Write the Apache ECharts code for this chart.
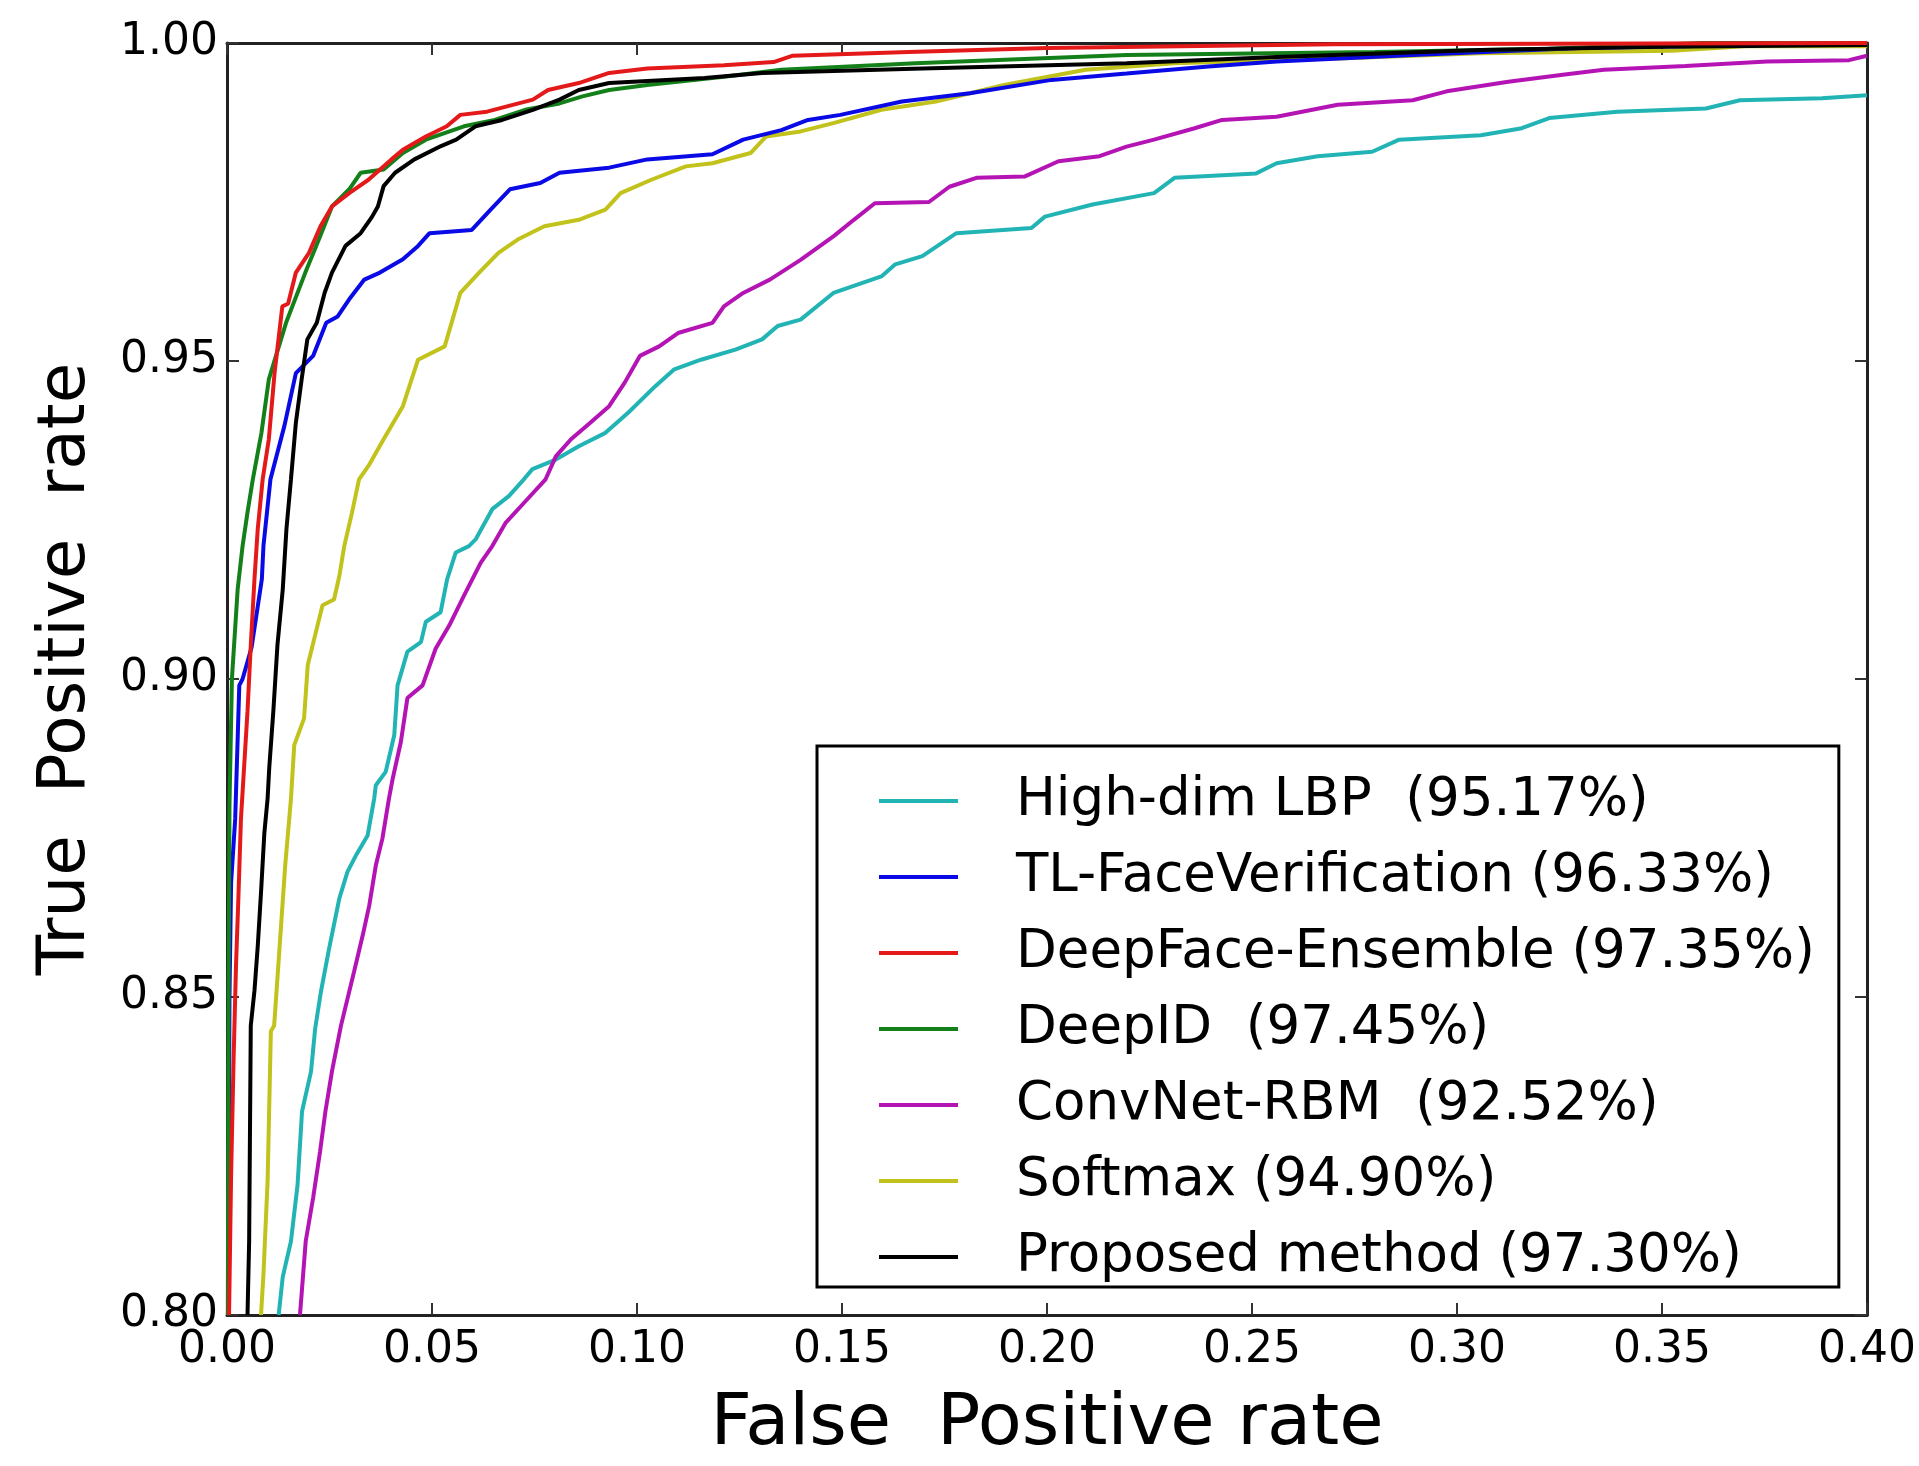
<!DOCTYPE html>
<html>
<head>
<meta charset="utf-8">
<script src="https://cdn.jsdelivr.net/npm/echarts@6/dist/echarts.min.js"></script>
<style>
html,body{margin:0;padding:0;background:#fff;}
#chart{width:1919px;height:1466px;}
</style>
</head>
<body>
<div id="chart"></div>
<script>
// ---- Data ----
const seriesNames = [
  'High-dim LBP  (95.17%)',
  'TL-FaceVerification (96.33%)',
  'DeepFace-Ensemble (97.35%)',
  'DeepID  (97.45%)',
  'ConvNet-RBM  (92.52%)',
  'Softmax (94.90%)',
  'Proposed method (97.30%)'
];

const xTicks = [0.00, 0.05, 0.10, 0.15, 0.20, 0.25, 0.30, 0.35, 0.40];
const yTicks = [0.80, 0.85, 0.90, 0.95, 1.00];

// High-dim LBP
const lbpFPR = [0.0126,0.0136,0.0156,0.0172,0.0183,0.0205,0.0215,0.0229,0.0249,0.0274,0.0294,0.0314,0.0343,0.0359,0.0363,0.0387,0.0408,0.0416,0.0440,0.0473,0.0485,0.0521,0.0537,0.0558,0.0590,0.0607,0.0647,0.0688,0.0724,0.0745,0.0802,0.0858,0.0923,0.0979,0.1044,0.1091,0.1156,0.1240,0.1305,0.1343,0.1399,0.1479,0.1596,0.1630,0.1696,0.1779,0.1962,0.1995,0.2111,0.2261,0.2311,0.2510,0.2560,0.2660,0.2793,0.2859,0.3058,0.3158,0.3225,0.3391,0.3607,0.3690,0.3890,0.4000];
const lbpTPR = [0.8000,0.8060,0.8116,0.8204,0.8320,0.8383,0.8450,0.8508,0.8576,0.8655,0.8697,0.8722,0.8754,0.8812,0.8833,0.8854,0.8912,0.8990,0.9043,0.9058,0.9090,0.9105,0.9157,0.9199,0.9209,0.9220,0.9267,0.9288,0.9314,0.9330,0.9345,0.9366,0.9387,0.9419,0.9460,0.9487,0.9502,0.9518,0.9534,0.9555,0.9565,0.9607,0.9633,0.9652,0.9665,0.9701,0.9709,0.9727,0.9746,0.9764,0.9788,0.9795,0.9811,0.9822,0.9829,0.9848,0.9855,0.9866,0.9882,0.9892,0.9897,0.9910,0.9913,0.9918];

// TL-FaceVerification
const tlFPR = [0.0003,0.0006,0.0010,0.0020,0.0030,0.0038,0.0060,0.0085,0.0089,0.0106,0.0140,0.0168,0.0210,0.0242,0.0270,0.0298,0.0335,0.0373,0.0429,0.0466,0.0494,0.0597,0.0643,0.0690,0.0764,0.0811,0.0932,0.1025,0.1184,0.1259,0.1352,0.1417,0.1496,0.1646,0.1812,0.2011,0.2194,0.2394,0.2560,0.2892,0.3300,0.4000];
const tlTPR = [0.8000,0.8500,0.8680,0.8780,0.8990,0.9000,0.9050,0.9157,0.9210,0.9314,0.9398,0.9481,0.9508,0.9560,0.9570,0.9597,0.9628,0.9639,0.9660,0.9681,0.9701,0.9706,0.9738,0.9770,0.9780,0.9796,0.9804,0.9817,0.9825,0.9848,0.9863,0.9879,0.9887,0.9908,0.9921,0.9942,0.9952,0.9963,0.9971,0.9981,0.9992,1.0000];

// DeepFace-Ensemble
const dfFPR = [0.0005,0.0010,0.0016,0.0022,0.0028,0.0034,0.0050,0.0058,0.0067,0.0075,0.0087,0.0102,0.0116,0.0135,0.0149,0.0168,0.0200,0.0228,0.0256,0.0298,0.0345,0.0401,0.0429,0.0485,0.0536,0.0569,0.0634,0.0746,0.0783,0.0858,0.0932,0.1025,0.1212,0.1333,0.1380,0.1662,0.2000,0.2700,0.4000];
const dfTPR = [0.8000,0.8220,0.8400,0.8550,0.8660,0.8780,0.8949,0.9053,0.9157,0.9236,0.9314,0.9377,0.9481,0.9586,0.9590,0.9639,0.9670,0.9712,0.9743,0.9764,0.9785,0.9817,0.9832,0.9853,0.9869,0.9887,0.9892,0.9911,0.9926,0.9937,0.9953,0.9960,0.9965,0.9970,0.9980,0.9986,0.9992,0.9998,1.0000];

// DeepID
const idFPR = [0.0002,0.0004,0.0006,0.0012,0.0026,0.0038,0.0050,0.0063,0.0084,0.0102,0.0144,0.0191,0.0224,0.0256,0.0298,0.0326,0.0382,0.0429,0.0485,0.0578,0.0653,0.0727,0.0811,0.0867,0.0932,0.1025,0.1212,0.1352,0.1679,0.2194,0.2800,0.3225,0.3600,0.4000];
const idTPR = [0.8000,0.8500,0.8800,0.9000,0.9141,0.9209,0.9262,0.9314,0.9387,0.9471,0.9560,0.9639,0.9691,0.9743,0.9770,0.9796,0.9801,0.9827,0.9848,0.9869,0.9879,0.9895,0.9905,0.9916,0.9926,0.9934,0.9947,0.9958,0.9968,0.9981,0.9986,0.9991,1.0000,1.0000];

// ConvNet-RBM
const cnFPR = [0.0178,0.0192,0.0210,0.0227,0.0240,0.0256,0.0278,0.0310,0.0331,0.0347,0.0363,0.0379,0.0395,0.0404,0.0424,0.0440,0.0477,0.0509,0.0542,0.0578,0.0619,0.0647,0.0680,0.0733,0.0777,0.0802,0.0839,0.0886,0.0932,0.0970,0.1007,0.1054,0.1100,0.1184,0.1212,0.1259,0.1324,0.1399,0.1479,0.1529,0.1580,0.1712,0.1762,0.1828,0.1945,0.2028,0.2128,0.2194,0.2261,0.2360,0.2427,0.2560,0.2709,0.2892,0.2975,0.3125,0.3258,0.3358,0.3557,0.3756,0.3956,0.4000];
const cnTPR = [0.8000,0.8116,0.8184,0.8257,0.8320,0.8383,0.8455,0.8540,0.8597,0.8644,0.8707,0.8749,0.8812,0.8843,0.8901,0.8970,0.8990,0.9048,0.9084,0.9131,0.9183,0.9209,0.9246,0.9283,0.9314,0.9350,0.9377,0.9403,0.9429,0.9466,0.9508,0.9523,0.9544,0.9560,0.9586,0.9607,0.9628,0.9659,0.9696,0.9722,0.9748,0.9750,0.9774,0.9788,0.9790,0.9814,0.9822,0.9837,0.9848,0.9866,0.9879,0.9884,0.9903,0.9910,0.9924,0.9939,0.9950,0.9958,0.9964,0.9971,0.9973,0.9980];

// Softmax
const smFPR = [0.0083,0.0089,0.0099,0.0107,0.0115,0.0128,0.0142,0.0156,0.0164,0.0188,0.0197,0.0215,0.0233,0.0261,0.0274,0.0286,0.0305,0.0322,0.0345,0.0382,0.0429,0.0466,0.0531,0.0569,0.0615,0.0662,0.0709,0.0774,0.0858,0.0923,0.0960,0.1035,0.1119,0.1184,0.1277,0.1315,0.1399,0.1479,0.1596,0.1729,0.1895,0.2094,0.2311,0.2726,0.3058,0.3524,0.3700,0.4000];
const smTPR = [0.8000,0.8065,0.8210,0.8446,0.8455,0.8576,0.8707,0.8812,0.8896,0.8938,0.9022,0.9069,0.9116,0.9125,0.9162,0.9209,0.9262,0.9314,0.9335,0.9377,0.9429,0.9502,0.9523,0.9607,0.9639,0.9670,0.9691,0.9712,0.9722,0.9738,0.9764,0.9785,0.9806,0.9811,0.9827,0.9853,0.9861,0.9874,0.9895,0.9908,0.9934,0.9958,0.9968,0.9976,0.9984,0.9988,0.9995,0.9995];

// Proposed method
const pmFPR = [0.0050,0.0054,0.0058,0.0067,0.0075,0.0083,0.0091,0.0099,0.0103,0.0113,0.0123,0.0136,0.0145,0.0156,0.0168,0.0182,0.0196,0.0219,0.0238,0.0256,0.0289,0.0326,0.0354,0.0368,0.0382,0.0410,0.0457,0.0522,0.0559,0.0606,0.0671,0.0746,0.0811,0.0858,0.0932,0.1165,0.1305,0.1696,0.2194,0.2560,0.3058,0.3500,0.4000];
const pmTPR = [0.8000,0.8116,0.8455,0.8510,0.8580,0.8665,0.8757,0.8812,0.8860,0.8949,0.9053,0.9141,0.9236,0.9314,0.9403,0.9471,0.9534,0.9560,0.9607,0.9639,0.9681,0.9701,0.9727,0.9743,0.9775,0.9796,0.9817,0.9838,0.9848,0.9869,0.9879,0.9895,0.9911,0.9926,0.9937,0.9945,0.9953,0.9960,0.9968,0.9978,0.9989,0.9994,0.9997];

// ---- Build chart ----
const zip = (xs, ys) => xs.map((x, i) => [x, ys[i]]);
const FONT = 'DejaVu Sans';

const defs = [
  // draw order (later on top); legend order kept separately
  {name: seriesNames[0], x: lbpFPR, y: lbpTPR, color: '#22b4b4'},
  {name: seriesNames[4], x: cnFPR,  y: cnTPR,  color: '#b414b4'},
  {name: seriesNames[5], x: smFPR,  y: smTPR,  color: '#c2c21c'},
  {name: seriesNames[1], x: tlFPR,  y: tlTPR,  color: '#0a0ae6'},
  {name: seriesNames[3], x: idFPR,  y: idTPR,  color: '#14801a'},
  {name: seriesNames[6], x: pmFPR,  y: pmTPR,  color: '#000000'},
  {name: seriesNames[2], x: dfFPR,  y: dfTPR,  color: '#e41a1a'}
];

const axisLineStyle = {color: '#222', width: 3};
const tickStyle = {color: '#333', width: 2};

const chart = echarts.init(document.getElementById('chart'), null, {renderer: 'canvas'});
chart.setOption({
  backgroundColor: '#ffffff',
  animation: false,
  grid: {left: 227, right: 50, top: 43, bottom: 150, containLabel: false},
  legend: {
    data: seriesNames,
    orient: 'vertical',
    left: 817,
    top: 746,
    backgroundColor: '#fff',
    borderColor: '#000',
    borderWidth: 3,
    borderRadius: 0,
    padding: [25, 24, 0, 62],
    itemWidth: 79,
    itemHeight: 4,
    itemGap: 16,
    icon: 'rect',
    selectedMode: false,
    textStyle: {fontFamily: FONT, fontSize: 53, color: '#000', lineHeight: 60, padding: [0, 0, 0, 53]}
  },
  xAxis: [{
    type: 'value', min: xTicks[0], max: xTicks[xTicks.length - 1], interval: 0.05,
    position: 'bottom',
    name: 'False  Positive rate', nameLocation: 'middle', nameGap: 74,
    nameTextStyle: {fontFamily: FONT, fontSize: 72, color: '#000'},
    axisLine: {show: true, onZero: false, lineStyle: axisLineStyle},
    axisTick: {show: true, inside: true, length: 12, lineStyle: tickStyle},
    splitLine: {show: false},
    axisLabel: {show: true, margin: 14, fontFamily: FONT, fontSize: 44, color: '#000',
      showMinLabel: true, showMaxLabel: true, formatter: v => v.toFixed(2)}
  }, {
    type: 'value', min: xTicks[0], max: xTicks[xTicks.length - 1], interval: 0.05,
    position: 'top',
    axisLine: {show: true, onZero: false, lineStyle: axisLineStyle},
    axisTick: {show: true, inside: true, length: 12, lineStyle: tickStyle},
    splitLine: {show: false}, axisLabel: {show: false}
  }],
  yAxis: [{
    type: 'value', min: yTicks[0], max: yTicks[yTicks.length - 1], interval: 0.05,
    position: 'left',
    name: 'True  Positive  rate', nameLocation: 'middle', nameGap: 127, nameRotate: 90,
    nameTextStyle: {fontFamily: FONT, fontSize: 66, color: '#000', padding: [0, 0, 0, 20]},
    axisLine: {show: true, onZero: false, lineStyle: axisLineStyle},
    axisTick: {show: true, inside: true, length: 12, lineStyle: tickStyle},
    splitLine: {show: false},
    axisLabel: {show: true, margin: 9, fontFamily: FONT, fontSize: 44, color: '#000',
      showMinLabel: true, showMaxLabel: true, formatter: v => v.toFixed(2)}
  }, {
    type: 'value', min: yTicks[0], max: yTicks[yTicks.length - 1], interval: 0.05,
    position: 'right',
    axisLine: {show: true, onZero: false, lineStyle: axisLineStyle},
    axisTick: {show: true, inside: true, length: 12, lineStyle: tickStyle},
    splitLine: {show: false}, axisLabel: {show: false}
  }],
  series: defs.map(d => ({
    name: d.name,
    type: 'line',
    xAxisIndex: 0,
    yAxisIndex: 0,
    data: zip(d.x, d.y),
    showSymbol: false,
    symbol: 'none',
    clip: true,
    lineStyle: {color: d.color, width: 4},
    itemStyle: {color: d.color},
    emphasis: {disabled: true}
  }))
});
</script>
</body>
</html>
